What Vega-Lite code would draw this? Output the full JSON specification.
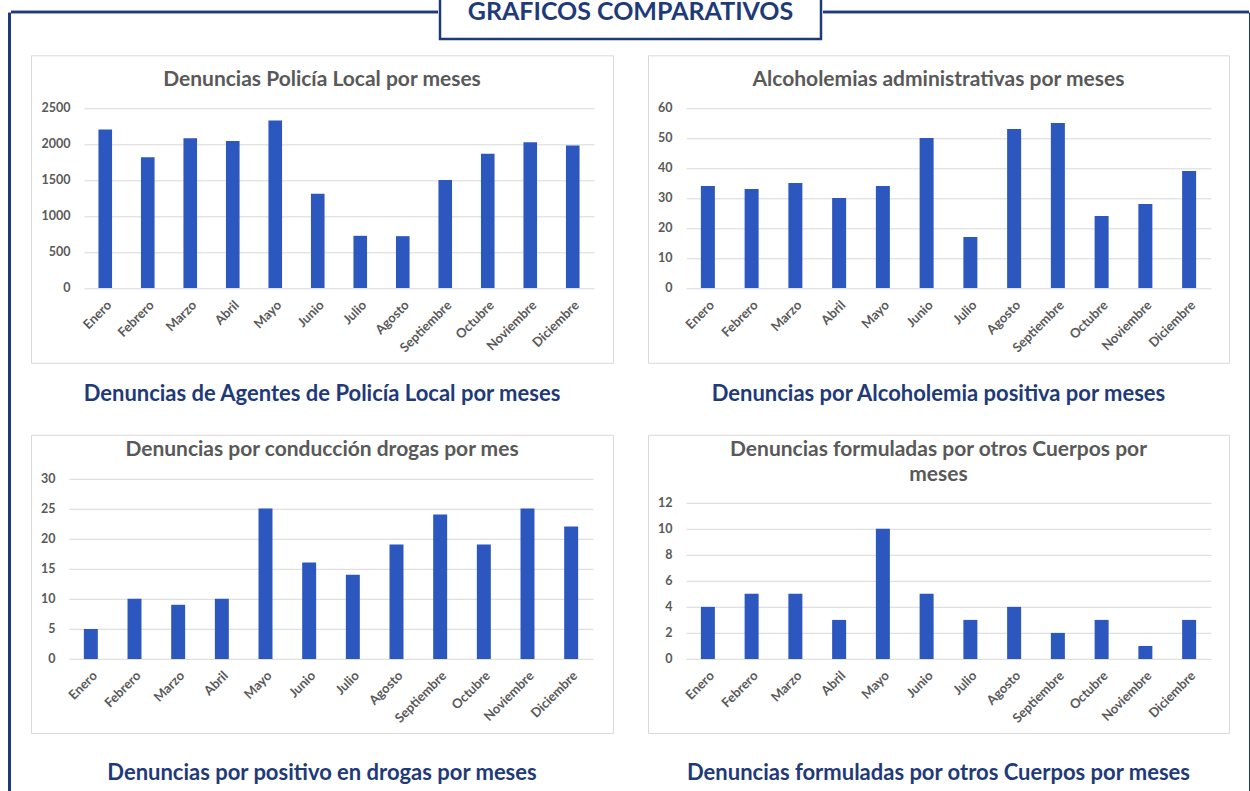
{
  "$schema": "https://vega.github.io/schema/vega-lite/v6.json",
  "padding": {"left": 8, "top": -17.7, "right": 0, "bottom": 0},
  "background": "white",
  "spacing": 0,
  "center": true,
  "config": {
    "font": "Lato",
    "view": {"stroke": null},
    "axisY": {"domain": false, "ticks": false, "labelPadding": 14, "labelFont": "Lato", "labelFontSize": 12.5, "labelFontWeight": "bold", "labelColor": "#595959", "grid": true, "gridColor": "#D9D9D9", "gridWidth": 1, "format": "d"},
    "axisX": {"domain": false, "ticks": false, "grid": false, "labelAngle": -45, "labelPadding": 10, "labelFont": "Lato", "labelFontSize": 13, "labelFontWeight": "bold", "labelColor": "#595959", "labelOverlap": false}
  },
  "datasets": {
    "p1": [
      {"mes": "Enero", "valor": 2200}, {"mes": "Febrero", "valor": 1815}, {"mes": "Marzo", "valor": 2080},
      {"mes": "Abril", "valor": 2040}, {"mes": "Mayo", "valor": 2325}, {"mes": "Junio", "valor": 1310},
      {"mes": "Julio", "valor": 725}, {"mes": "Agosto", "valor": 720}, {"mes": "Septiembre", "valor": 1500},
      {"mes": "Octubre", "valor": 1865}, {"mes": "Noviembre", "valor": 2025}, {"mes": "Diciembre", "valor": 1980}
    ],
    "p2": [
      {"mes": "Enero", "valor": 34}, {"mes": "Febrero", "valor": 33}, {"mes": "Marzo", "valor": 35},
      {"mes": "Abril", "valor": 30}, {"mes": "Mayo", "valor": 34}, {"mes": "Junio", "valor": 50},
      {"mes": "Julio", "valor": 17}, {"mes": "Agosto", "valor": 53}, {"mes": "Septiembre", "valor": 55},
      {"mes": "Octubre", "valor": 24}, {"mes": "Noviembre", "valor": 28}, {"mes": "Diciembre", "valor": 39}
    ],
    "p3": [
      {"mes": "Enero", "valor": 5}, {"mes": "Febrero", "valor": 10}, {"mes": "Marzo", "valor": 9},
      {"mes": "Abril", "valor": 10}, {"mes": "Mayo", "valor": 25}, {"mes": "Junio", "valor": 16},
      {"mes": "Julio", "valor": 14}, {"mes": "Agosto", "valor": 19}, {"mes": "Septiembre", "valor": 24},
      {"mes": "Octubre", "valor": 19}, {"mes": "Noviembre", "valor": 25}, {"mes": "Diciembre", "valor": 22}
    ],
    "p4": [
      {"mes": "Enero", "valor": 4}, {"mes": "Febrero", "valor": 5}, {"mes": "Marzo", "valor": 5},
      {"mes": "Abril", "valor": 3}, {"mes": "Mayo", "valor": 10}, {"mes": "Junio", "valor": 5},
      {"mes": "Julio", "valor": 3}, {"mes": "Agosto", "valor": 4}, {"mes": "Septiembre", "valor": 2},
      {"mes": "Octubre", "valor": 3}, {"mes": "Noviembre", "valor": 1}, {"mes": "Diciembre", "valor": 3}
    ]
  },
  "hconcat": [
    {"width": 3, "height": 820, "view": {"fill": "#1F3A78", "stroke": null}, "data": {"values": [{}]}, "mark": {"type": "rect", "color": "#1F3A78"}, "encoding": {}},
    {
      "vconcat": [
        {
          "hconcat": [
            {"width": 427, "height": 2.5, "view": {"fill": "#1F3A78", "stroke": null}, "data": {"values": [{}]}, "mark": {"type": "rect", "color": "#1F3A78"}, "encoding": {}},
            {"width": 381, "height": 55, "view": {"stroke": "#1F3A78", "strokeWidth": 2.5, "fill": "white"}, "data": {"values": [{"t": "GRAFICOS COMPARATIVOS"}]}, "mark": {"type": "text", "font": "Lato", "fontSize": 25, "fontWeight": "bold", "color": "#1F3A78", "dy": 1}, "encoding": {"text": {"field": "t"}}},
            {"width": 426, "height": 2.5, "view": {"fill": "#1F3A78", "stroke": null}, "data": {"values": [{}]}, "mark": {"type": "rect", "color": "#1F3A78"}, "encoding": {}}
          ],
          "spacing": 0,
          "center": true
        },
        {
          "hconcat": [
            {"width": 19, "height": 1, "data": {"values": [{}]}, "mark": {"type": "rect", "opacity": 0}, "encoding": {}},
            {
              "vconcat": [
                {
                  "hconcat": [
                    {
                      "vconcat": [
                        {
                          "width": 582, "height": 307.5,
                          "view": {"stroke": "#D9D9D9", "fill": "white"},
                          "title": {"text": "Denuncias Policía Local por meses", "offset": -35, "anchor": "middle", "font": "Lato", "fontSize": 21, "fontWeight": "bold", "color": "#595959"},
                          "data": {"name": "p1"},
                          "mark": {"type": "bar", "color": "#2B57BF", "width": {"band": 0.32}},
                          "encoding": {
                            "x": {"field": "mes", "type": "nominal", "sort": ["Enero","Febrero","Marzo","Abril","Mayo","Junio","Julio","Agosto","Septiembre","Octubre","Noviembre","Diciembre"], "scale": {"range": [53, 563], "paddingInner": 0, "paddingOuter": 0}, "axis": {"title": null, "offset": -74.3}},
                            "y": {"field": "valor", "type": "quantitative", "scale": {"domain": [0, 2500], "range": [232.7, 52.7], "nice": false}, "axis": {"title": null, "offset": -53, "values": [0, 500, 1000, 1500, 2000, 2500]}}
                          }
                        },
                        {"width": 582, "height": 30, "data": {"values": [{"c": "Denuncias de Agentes de Policía Local por meses"}]}, "mark": {"type": "text", "font": "Lato", "fontSize": 22, "fontWeight": "bold", "color": "#1F3A78"}, "encoding": {"text": {"field": "c"}}}
                      ],
                      "spacing": 15.5
                    },
                    {
                      "vconcat": [
                        {
                          "width": 581, "height": 307.5,
                          "view": {"stroke": "#D9D9D9", "fill": "white"},
                          "title": {"text": "Alcoholemias administrativas por meses", "offset": -35, "anchor": "middle", "font": "Lato", "fontSize": 21, "fontWeight": "bold", "color": "#595959"},
                          "data": {"name": "p2"},
                          "mark": {"type": "bar", "color": "#2B57BF", "width": {"band": 0.32}},
                          "encoding": {
                            "x": {"field": "mes", "type": "nominal", "sort": ["Enero","Febrero","Marzo","Abril","Mayo","Junio","Julio","Agosto","Septiembre","Octubre","Noviembre","Diciembre"], "scale": {"range": [38, 563], "paddingInner": 0, "paddingOuter": 0}, "axis": {"title": null, "offset": -74.3}},
                            "y": {"field": "valor", "type": "quantitative", "scale": {"domain": [0, 60], "range": [232.7, 52.7], "nice": false}, "axis": {"title": null, "offset": -38, "values": [0, 10, 20, 30, 40, 50, 60]}}
                          }
                        },
                        {"width": 581, "height": 30, "data": {"values": [{"c": "Denuncias por Alcoholemia positiva por meses"}]}, "mark": {"type": "text", "font": "Lato", "fontSize": 22, "fontWeight": "bold", "color": "#1F3A78"}, "encoding": {"text": {"field": "c"}}}
                      ],
                      "spacing": 15.5
                    }
                  ],
                  "spacing": 33
                },
                {
                  "hconcat": [
                    {
                      "vconcat": [
                        {
                          "width": 582, "height": 298.2,
                          "view": {"stroke": "#D9D9D9", "fill": "white"},
                          "title": {"text": "Denuncias por conducción drogas por mes", "offset": -25, "anchor": "middle", "font": "Lato", "fontSize": 21, "fontWeight": "bold", "color": "#595959"},
                          "data": {"name": "p3"},
                          "mark": {"type": "bar", "color": "#2B57BF", "width": {"band": 0.32}},
                          "encoding": {
                            "x": {"field": "mes", "type": "nominal", "sort": ["Enero","Febrero","Marzo","Abril","Mayo","Junio","Julio","Agosto","Septiembre","Octubre","Noviembre","Diciembre"], "scale": {"range": [38, 562], "paddingInner": 0, "paddingOuter": 0}, "axis": {"title": null, "offset": -74}},
                            "y": {"field": "valor", "type": "quantitative", "scale": {"domain": [0, 30], "range": [224.2, 43.5], "nice": false}, "axis": {"title": null, "offset": -38, "values": [0, 5, 10, 15, 20, 25, 30]}}
                          }
                        },
                        {"width": 582, "height": 30, "data": {"values": [{"c": "Denuncias por positivo en drogas por meses"}]}, "mark": {"type": "text", "font": "Lato", "fontSize": 22, "fontWeight": "bold", "color": "#1F3A78"}, "encoding": {"text": {"field": "c"}}}
                      ],
                      "spacing": 24.3
                    },
                    {
                      "vconcat": [
                        {
                          "width": 581, "height": 298.2,
                          "view": {"stroke": "#D9D9D9", "fill": "white"},
                          "title": {"text": ["Denuncias formuladas por otros Cuerpos por", "meses"], "offset": -50, "lineHeight": 25, "anchor": "middle", "font": "Lato", "fontSize": 21, "fontWeight": "bold", "color": "#595959"},
                          "data": {"name": "p4"},
                          "mark": {"type": "bar", "color": "#2B57BF", "width": {"band": 0.32}},
                          "encoding": {
                            "x": {"field": "mes", "type": "nominal", "sort": ["Enero","Febrero","Marzo","Abril","Mayo","Junio","Julio","Agosto","Septiembre","Octubre","Noviembre","Diciembre"], "scale": {"range": [38, 563], "paddingInner": 0, "paddingOuter": 0}, "axis": {"title": null, "offset": -74}},
                            "y": {"field": "valor", "type": "quantitative", "scale": {"domain": [0, 12], "range": [224.2, 67.8], "nice": false}, "axis": {"title": null, "offset": -38, "values": [0, 2, 4, 6, 8, 10, 12]}}
                          }
                        },
                        {"width": 581, "height": 30, "data": {"values": [{"c": "Denuncias formuladas por otros Cuerpos por meses"}]}, "mark": {"type": "text", "font": "Lato", "fontSize": 22, "fontWeight": "bold", "color": "#1F3A78"}, "encoding": {"text": {"field": "c"}}}
                      ],
                      "spacing": 24.3
                    }
                  ],
                  "spacing": 33
                }
              ],
              "spacing": 24.5
            },
            {"width": 19, "height": 1, "data": {"values": [{}]}, "mark": {"type": "rect", "opacity": 0}, "encoding": {}}
          ],
          "spacing": 0
        },
        {"width": 10, "height": 60, "data": {"values": [{}]}, "mark": {"type": "rect", "opacity": 0}, "encoding": {}}
      ],
      "spacing": 13.7
    },
    {"width": 3, "height": 820, "view": {"fill": "#1F3A78", "stroke": null}, "data": {"values": [{}]}, "mark": {"type": "rect", "color": "#1F3A78"}, "encoding": {}}
  ]
}
